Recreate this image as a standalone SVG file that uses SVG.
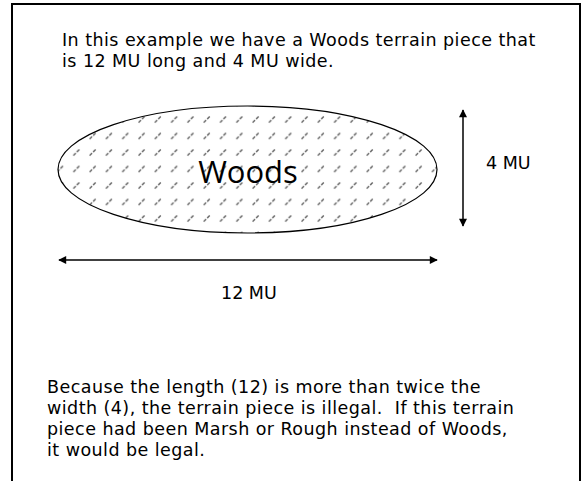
<svg xmlns="http://www.w3.org/2000/svg" width="582" height="481" viewBox="0 0 582 481">
<style>
.t{font-family:"DejaVu Sans","Verdana",sans-serif;font-size:17.5px;fill:#000;white-space:pre}
.p{letter-spacing:0.45px}
.big{font-family:"Open Sans","Noto Sans",sans-serif;font-size:31px;fill:#000}
.ln{stroke:#000;stroke-width:1.5;fill:none}
</style>
<defs>
<pattern id="hatch" patternUnits="userSpaceOnUse" x="301" y="148" width="16.3" height="16.5">
<line x1="0.5" y1="7.5" x2="7" y2="1" stroke="#666" stroke-width="1.5" stroke-dasharray="3.5 1.5"/>
</pattern>
<marker id="ah" viewBox="0 0 10 10" refX="9" refY="5" markerWidth="10" markerHeight="8" markerUnits="userSpaceOnUse" orient="auto-start-reverse">
<path d="M0,0 L10,5 L0,10 z" fill="#000"/>
</marker>
</defs>
<rect x="12" y="4" width="568" height="500" fill="#fff" stroke="#000" stroke-width="2"/>
<text class="t p" x="62" y="46">In this example we have a Woods terrain piece that</text>
<text class="t p" x="62" y="67">is 12 MU long and 4 MU wide.</text>
<g id="woods">
<ellipse cx="247.5" cy="169.5" rx="189.5" ry="63.5" fill="url(#hatch)" stroke="#000" stroke-width="1.2"/>
<text class="big" x="248" y="183" text-anchor="middle">Woods</text>
</g>
<g id="connectors">
<line class="ln" x1="463" y1="110" x2="463" y2="226" marker-start="url(#ah)" marker-end="url(#ah)"/>
<line class="ln" x1="59" y1="260" x2="437" y2="260" marker-start="url(#ah)" marker-end="url(#ah)"/>
</g>
<text class="t" x="486" y="169">4 MU</text>
<text class="t" x="221" y="299">12 MU</text>
<text class="t p" x="47" y="393">Because the length (12) is more than twice the</text>
<text class="t p" x="47" y="414" xml:space="preserve">width (4), the terrain piece is illegal.  If this terrain</text>
<text class="t p" x="47" y="435">piece had been Marsh or Rough instead of Woods,</text>
<text class="t p" x="47" y="456">it would be legal.</text>
</svg>
